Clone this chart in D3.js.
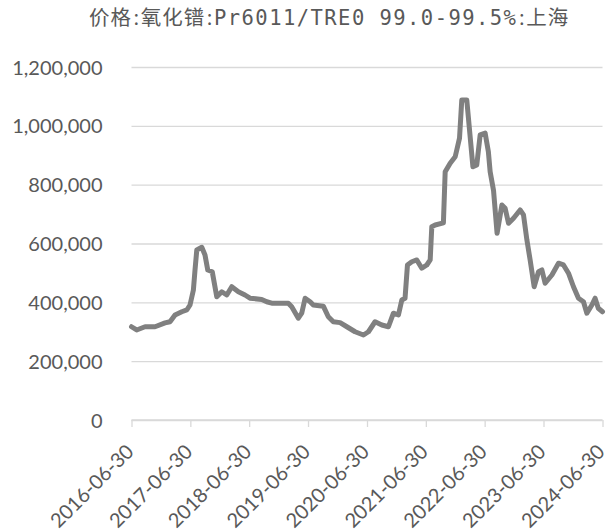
<!DOCTYPE html>
<html>
<head>
<meta charset="utf-8">
<script src="https://cdn.jsdelivr.net/npm/d3@7"></script>
<style>
  html, body { margin: 0; padding: 0; background: #fff; }
  svg { display: block; }
</style>
</head>
<body>
<svg id="chart" width="608" height="532"></svg>
<script>
// ---- data ----
const dates = [
  "2016-06-30","2016-08-01","2016-09-22","2016-11-23","2017-01-24","2017-02-24","2017-03-27","2017-05-08",
  "2017-06-08","2017-06-28","2017-07-19","2017-07-29","2017-08-09","2017-09-09","2017-09-29","2017-10-16",
  "2017-11-13","2017-12-11","2018-01-11","2018-02-11","2018-03-14","2018-04-24","2018-06-04","2018-07-05",
  "2018-09-16","2018-10-17","2018-11-17","2019-02-28","2019-03-21","2019-05-01","2019-05-22","2019-06-12",
  "2019-07-13","2019-08-02","2019-10-03","2019-11-03","2019-12-04","2020-01-15","2020-02-26","2020-04-17",
  "2020-06-08","2020-07-09","2020-08-19","2020-09-30","2020-11-10","2020-12-11","2021-01-11","2021-02-01",
  "2021-02-21","2021-03-08","2021-04-04","2021-05-05","2021-06-05","2021-07-06","2021-07-27","2021-08-06",
  "2021-08-27","2021-10-17","2021-10-28","2021-11-28","2021-12-29","2022-01-08","2022-01-25","2022-02-08",
  "2022-03-11","2022-04-18","2022-05-12","2022-06-02","2022-07-03","2022-07-23","2022-08-03","2022-08-24",
  "2022-09-15","2022-10-15","2022-11-04","2022-11-25","2022-12-26","2023-02-05","2023-02-26","2023-03-19",
  "2023-04-08","2023-05-03","2023-05-30","2023-06-20","2023-07-10","2023-08-21","2023-10-01","2023-11-01",
  "2023-12-02","2024-01-02","2024-02-02","2024-03-04","2024-03-25","2024-04-25","2024-05-15","2024-06-04",
  "2024-06-30"
];
const prices = [
  317000,306000,317000,317000,330000,334000,357000,368000,
  374000,391000,442000,510000,578000,587000,561000,510000,
  504000,419000,436000,425000,453000,436000,425000,414000,
  410000,402000,397000,397000,385000,346000,363000,414000,
  402000,391000,387000,351000,334000,331000,317000,300000,
  289000,300000,334000,323000,317000,363000,357000,408000,
  414000,527000,538000,544000,516000,527000,544000,657000,
  663000,670000,844000,873000,895000,918000,958000,1088000,
  1088000,861000,867000,969000,975000,912000,844000,780000,
  635000,731000,720000,669000,686000,714000,697000,612000,
  544000,453000,504000,510000,465000,493000,533000,527000,
  499000,453000,414000,402000,363000,391000,414000,380000,
  368000
];
const yTicks = [0, 200000, 400000, 600000, 800000, 1000000, 1200000];
const xTickLabels = ["2016-06-30","2017-06-30","2018-06-30","2019-06-30","2020-06-30",
                     "2021-06-30","2022-06-30","2023-06-30","2024-06-30"];
const titleParts = [
  {t: "价格", kind: "cjk"}, {t: ":", kind: "colon"}, {t: "氧化镨", kind: "cjk"},
  {t: ":", kind: "colon"}, {t: "Pr6011/TRE0 99.0-99.5%", kind: "latin"},
  {t: ":", kind: "colon"}, {t: "上海", kind: "cjk"}
];

// ---- chart ----
const parse = d3.timeParse("%Y-%m-%d");
const fmt = d3.timeFormat("%Y-%m-%d");
const data = dates.map((d, i) => ({date: parse(d), value: prices[i]}));
const tickDates = xTickLabels.map(parse);

const svg = d3.select("#chart");
const plotL = 131.5, plotR = 602.5, plotT = 67, plotB = 420;
const textColor = "#595959";

const x = d3.scaleTime().domain([tickDates[0], tickDates[tickDates.length - 1]]).range([plotL, plotR]);
const y = d3.scaleLinear().domain([0, 1200000]).range([plotB, plotT]);

// title
const title = svg.append("text")
  .attr("x", 89).attr("y", 25)
  .attr("text-anchor", "start")
  .attr("fill", textColor);
titleParts.forEach(p => {
  const ts = title.append("tspan").text(p.t);
  if (p.kind === "cjk") {
    ts.attr("font-family", "'Noto Sans CJK SC'").attr("font-size", 20.5)
      .attr("letter-spacing", 1.0);
  } else if (p.kind === "latin") {
    ts.attr("font-family", "'DejaVu Sans Mono'").attr("font-size", 20.5)
      .attr("letter-spacing", 1.45);
  } else {
    ts.attr("font-family", "Lato").attr("font-size", 20.5)
      .attr("dx", 1.8).attr("letter-spacing", 1.8);
  }
});

// gridlines + y labels
const yAxis = d3.axisLeft(y).tickValues(yTicks)
  .tickSize(-(plotR - plotL)).tickPadding(29)
  .tickFormat(d3.format(","));
const gy = svg.append("g").attr("transform", `translate(${plotL},0)`).call(yAxis);
gy.select(".domain").remove();
gy.selectAll(".tick line").attr("stroke", "#d9d9d9").attr("stroke-width", 1.3);
gy.selectAll(".tick text")
  .attr("font-family", "Lato").attr("font-size", 20).attr("fill", textColor)
  .attr("dy", "0.35em");

// x axis
const xAxis = d3.axisBottom(x).tickValues(tickDates).tickSize(7).tickFormat(fmt);
const gx = svg.append("g").attr("transform", `translate(0,${plotB})`).call(xAxis);
gx.select(".domain").attr("stroke", "#d9d9d9").attr("stroke-width", 1.3)
  .attr("d", `M${plotL},0H${plotR}`);
gx.selectAll(".tick line").attr("stroke", "#d9d9d9").attr("stroke-width", 1.3);
gx.selectAll(".tick text")
  .attr("font-family", "Lato").attr("font-size", 20).attr("fill", textColor)
  .attr("text-anchor", "end")
  .attr("dy", "0.35em")
  .attr("transform", "translate(-2,28) rotate(-45)")
  .attr("y", 0);

// line
const line = d3.line().x(d => x(d.date)).y(d => y(d.value));
svg.append("path").datum(data)
  .attr("fill", "none")
  .attr("stroke", "#808080")
  .attr("stroke-width", 5)
  .attr("stroke-linejoin", "round")
  .attr("stroke-linecap", "round")
  .attr("d", line);
</script>
</body>
</html>
